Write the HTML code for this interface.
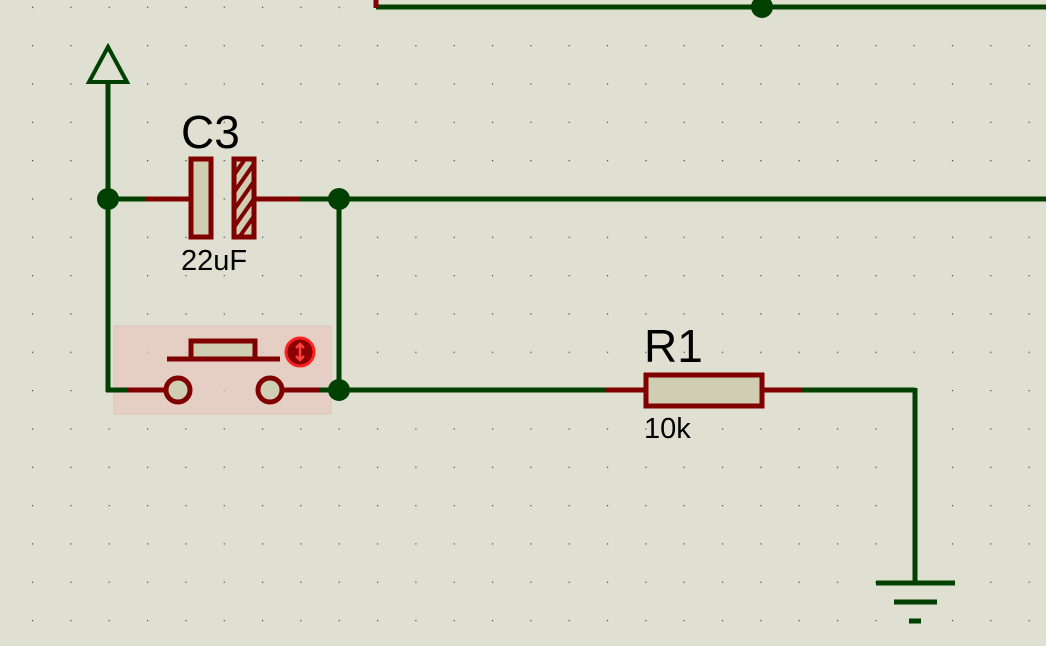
<!DOCTYPE html>
<html><head><style>
html,body{margin:0;padding:0;background:#dfe0d2;}
svg{display:block;}
text{font-family:"Liberation Sans",sans-serif;fill:#000;}
</style></head><body>
<svg width="1046" height="646" viewBox="0 0 1046 646" xmlns="http://www.w3.org/2000/svg">
<defs>
<pattern id="g" x="32" y="6.7" width="38.33" height="38.33" patternUnits="userSpaceOnUse">
<rect x="0" y="0" width="1.2" height="1.2" fill="#444"/>
</pattern>
<pattern id="h" width="10" height="10" patternUnits="userSpaceOnUse" patternTransform="rotate(35)">
<rect width="10" height="10" fill="#cfcdb2"/>
<rect width="4" height="10" fill="#800000"/>
</pattern>
</defs>
<rect width="1046" height="646" fill="#dfe0d2"/>
<rect width="1046" height="646" fill="url(#g)"/>
<rect x="114" y="326" width="217" height="88" fill="#e8c8c0" opacity="0.7" stroke="#d8b8b0"/>
<g stroke="#004000" stroke-width="5" fill="none">
<line x1="376" y1="7" x2="1046" y2="7"/>
<line x1="108" y1="83" x2="108" y2="392"/>
<line x1="106" y1="390" x2="128" y2="390"/>
<line x1="108" y1="199" x2="145" y2="199"/>
<line x1="300" y1="199" x2="1046" y2="199"/>
<line x1="339" y1="199" x2="339" y2="390"/>
<line x1="320" y1="390" x2="605" y2="390"/>
<line x1="802" y1="390" x2="915" y2="390"/>
<line x1="915" y1="388" x2="915" y2="583"/>
<line x1="876" y1="583" x2="955" y2="583"/>
<line x1="894" y1="602" x2="937" y2="602"/>
<line x1="909" y1="621" x2="921" y2="621"/>
<polygon points="108,47 89,82 127,82" stroke-width="4"/>
</g>
<g fill="#004000">
<circle cx="762" cy="7" r="11"/>
<circle cx="108" cy="199" r="11"/>
<circle cx="339" cy="199" r="11"/>
<circle cx="339" cy="390" r="11"/>
</g>
<g stroke="#800000" stroke-width="5" fill="none">
<line x1="376" y1="0" x2="376" y2="8"/>
<line x1="145" y1="199" x2="190" y2="199"/>
<line x1="255" y1="199" x2="300" y2="199"/>
<line x1="128" y1="390" x2="166" y2="390"/>
<line x1="282" y1="390" x2="320" y2="390"/>
<line x1="605" y1="390" x2="645" y2="390"/>
<line x1="762" y1="390" x2="802" y2="390"/>
<line x1="167" y1="359" x2="280" y2="359"/>
</g>
<rect x="191" y="159" width="20" height="78" fill="#cfcdb2" stroke="#800000" stroke-width="5"/>
<rect x="234" y="159" width="20" height="78" fill="url(#h)" stroke="#800000" stroke-width="5"/>
<rect x="191" y="341" width="64" height="18" fill="#cfcdb2" stroke="#800000" stroke-width="5"/>
<circle cx="178" cy="390" r="12" fill="#cfcdb2" stroke="#800000" stroke-width="5"/>
<circle cx="270" cy="390" r="12" fill="#cfcdb2" stroke="#800000" stroke-width="5"/>
<rect x="646" y="375" width="116" height="31" fill="#cfcdb2" stroke="#800000" stroke-width="5"/>
<circle cx="300" cy="352" r="14" fill="#8b0000" stroke="#ff2020" stroke-width="3"/>
<path d="M300 345 L300 359 M296 348 L300 344 L304 348 M296 356 L300 360 L304 356" stroke="#ff4040" stroke-width="2.5" fill="none"/>
<text x="181" y="148" font-size="46">C3</text>
<text x="181" y="270" font-size="29">22uF</text>
<text x="644" y="362" font-size="46">R1</text>
<text x="644" y="438" font-size="29">10k</text>
</svg>
</body></html>
